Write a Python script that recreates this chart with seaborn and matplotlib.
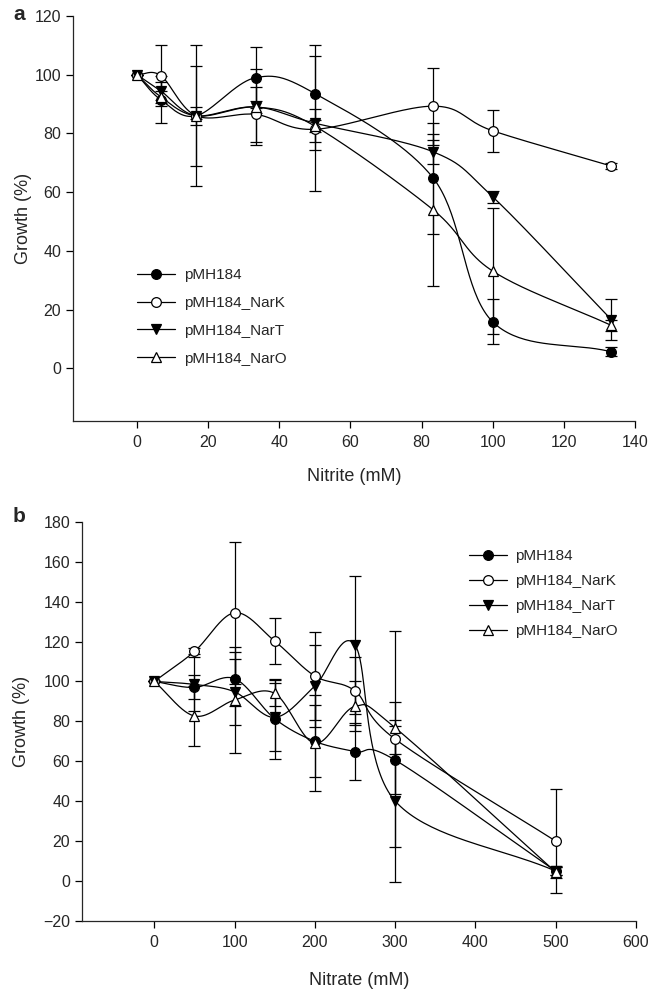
import numpy as np
import pandas as pd
import matplotlib
matplotlib.use('Agg')
import matplotlib.pyplot as plt
from matplotlib.lines import Line2D
import seaborn as sns

# Panel a: nitrite
nitrite_mM = [0, 6.67, 16.67, 33.33, 50, 83.33, 100, 133.33]
a_pMH184 = [100, 91.5, 86, 99, 93.6, 64.7, 15.8, 5.6]
a_pMH184_err = [0, 8, 24, 10.3, 16.5, 19, 7.7, 1.5]
a_NarK = [100, 99.7, 86, 86.5, 81.4, 89.3, 80.9, 68.9]
a_NarK_err = [0, 10.4, 17, 9.3, 7, 13.1, 7.2, 1]
a_NarT = [100, 94.5, 86, 89, 83.5, 73.7, 58.4, 16.6]
a_NarT_err = [0, 3, 3, 2, 23, 4, 2, 7.1]
a_NarO = [100, 92.5, 86, 89, 82.5, 53.9, 33.1, 14.6]
a_NarO_err = [0, 2, 1, 13, 2, 25.8, 21.5, 2]

# Panel b: nitrate
nitrate_mM = [0, 50, 100, 150, 200, 250, 300, 500]
b_pMH184 = [100, 97, 101.4, 81.3, 70, 64.8, 60.6, 5]
b_pMH184_err = [0, 6, 13.5, 20, 18, 14.2, 17, 2]
b_NarK = [100, 115, 134.4, 120.2, 102.7, 95.2, 71.1, 20]
b_NarK_err = [0, 1.5, 35.5, 11.5, 22, 17, 54, 26]
b_NarT = [100, 98.5, 94.8, 82, 97.7, 118.2, 40.1, 5]
b_NarT_err = [0, 13.5, 16.5, 17, 20.5, 34.5, 40.5, 2]
b_NarO = [100, 82.7, 90.7, 94, 69, 87.5, 76.8, 4.5]
b_NarO_err = [0, 15, 26.7, 6.5, 24, 12.5, 13, 3]

labels = ['pMH184', 'pMH184_NarK', 'pMH184_NarT', 'pMH184_NarO']
styles = [('o', 'black'), ('o', 'white'), ('v', 'black'), ('^', 'white')]


def smooth_line(x, y, n=40):
    # Catmull-Rom curve through the points, only for the connecting line
    P = np.column_stack([x, y]).astype(float)
    T = np.zeros_like(P)
    T[1:-1] = (P[2:] - P[:-2]) / 2
    T[0] = P[1] - P[0]
    T[-1] = P[-1] - P[-2]
    s = np.linspace(0, 1, n)[:, None]
    h00 = 2 * s**3 - 3 * s**2 + 1
    h10 = s**3 - 2 * s**2 + s
    h01 = -2 * s**3 + 3 * s**2
    h11 = s**3 - s**2
    segs = [h00 * P[i] + h10 * T[i] + h01 * P[i + 1] + h11 * T[i + 1]
            for i in range(len(P) - 1)]
    out = np.vstack(segs)
    return out[:, 0], out[:, 1]


sns.set_style('ticks')
plt.rcParams['font.family'] = ['Liberation Sans', 'DejaVu Sans']
plt.rcParams['font.size'] = 11

fig = plt.figure(figsize=(6.5, 9.9), dpi=100)
ax_a = fig.add_axes([0.1123, 0.5747, 0.8646, 0.4091])
ax_b = fig.add_axes([0.1262, 0.0697, 0.8523, 0.4033])


def draw_panel(ax, x, series, errs):
    for (mk, fc), yv, ev in zip(styles, series, errs):
        xs, ys = smooth_line(x, yv)
        sns.lineplot(x=xs, y=ys, ax=ax, color='black', lw=0.9, sort=False,
                     estimator=None, zorder=2)
        ax.errorbar(x, yv, yerr=ev, fmt=mk, ms=7, mfc=fc, mec='black', mew=0.9,
                    ecolor='black', elinewidth=0.9, capsize=4.5, capthick=0.9, zorder=3)
    for s in ['top', 'right']:
        ax.spines[s].set_visible(False)
    for s in ['left', 'bottom']:
        ax.spines[s].set_linewidth(0.9)
    ax.tick_params(direction='out', length=5, width=0.9, labelsize=11.5, color='black')
    ax.tick_params(axis='x', pad=5)


draw_panel(ax_a, nitrite_mM, [a_pMH184, a_NarK, a_NarT, a_NarO],
           [a_pMH184_err, a_NarK_err, a_NarT_err, a_NarO_err])
ax_a.set_xlim(-18, 140)
ax_a.set_ylim(-18, 120)
ax_a.set_xticks(range(0, 141, 20))
ax_a.set_yticks(range(0, 121, 20))
ax_a.set_xlabel('Nitrite (mM)', fontsize=13, labelpad=13)
ax_a.set_ylabel('Growth (%)', fontsize=13)
ax_a.yaxis.set_label_coords(-0.073, 0.5)

draw_panel(ax_b, nitrate_mM, [b_pMH184, b_NarK, b_NarT, b_NarO],
           [b_pMH184_err, b_NarK_err, b_NarT_err, b_NarO_err])
ax_b.set_xlim(-90, 600)
ax_b.set_ylim(-20, 180)
ax_b.set_xticks(range(0, 601, 100))
ax_b.set_yticks(range(-20, 181, 20))
ax_b.set_xlabel('Nitrate (mM)', fontsize=13, labelpad=16)
ax_b.set_ylabel('Growth (%)', fontsize=13)
ax_b.yaxis.set_label_coords(-0.094, 0.5)

handles = [Line2D([], [], color='black', lw=0.9, marker=mk, ms=7, mfc=fc, mec='black', mew=0.9)
           for mk, fc in styles]
ax_a.legend(handles, labels, loc='upper left', bbox_to_anchor=(0.114, 0.378), frameon=False,
            borderpad=0, borderaxespad=0, handlelength=2.5, handletextpad=0.6,
            labelspacing=0.91, fontsize=11, numpoints=1)
ax_b.legend(handles, labels, loc='upper left', bbox_to_anchor=(0.699, 0.932), frameon=False,
            borderpad=0, borderaxespad=0, handlelength=2.5, handletextpad=0.5,
            labelspacing=0.73, fontsize=11, numpoints=1)

fig.text(0.02, 0.995, 'a', fontsize=15, fontweight='bold', va='top')
fig.text(0.02, 0.488, 'b', fontsize=15, fontweight='bold', va='top')

fig.savefig('out.png', dpi=100)
